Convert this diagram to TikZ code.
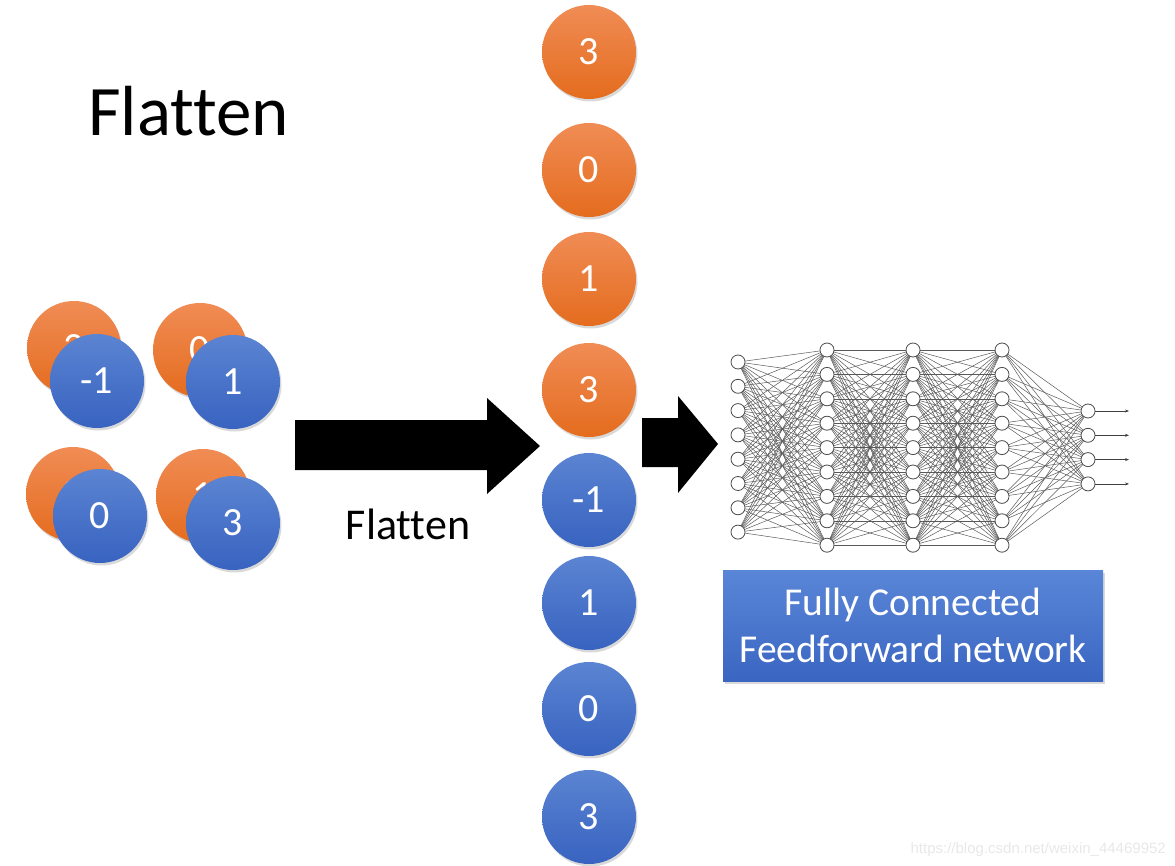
\documentclass[tikz,border=0pt]{standalone}
\usepackage{fontspec}
\setmainfont[Ligatures=NoCommon]{Carlito}
\newfontfamily\wmfont{Liberation Sans}
\usetikzlibrary{shadows,arrows.meta}
\definecolor{orangeTop}{HTML}{F08C55}
\definecolor{orangeBot}{HTML}{E46C1E}
\definecolor{blueTop}{HTML}{5B84D2}
\definecolor{blueBot}{HTML}{3863C0}
\definecolor{boxTop}{HTML}{5A86D8}
\definecolor{boxBot}{HTML}{3A66C2}
\tikzset{
 orb/.style={circle, minimum size=94pt, inner sep=0pt, text=white,
   font=\fontsize{40}{46}\selectfont,
   drop shadow={opacity=0.3, shadow xshift=1.5pt, shadow yshift=-2.5pt}},
 orangeball/.style={orb, top color=orangeTop, bottom color=orangeBot},
 blueball/.style={orb, top color=blueTop, bottom color=blueBot},
 neuron/.style={circle, draw=black!70, fill=white, minimum size=14pt, inner sep=0pt, line width=0.8pt},
 synapse/.style={draw=black!65, line width=0.5pt},
 outarrow/.style={draw=black!75, line width=0.6pt, -{Stealth[length=4pt,width=3pt]}},
 bigarrow/.style={fill=black},
 fcbox/.style={rectangle, minimum width=380pt, minimum height=111pt, inner sep=0pt,
   top color=boxTop, bottom color=boxBot, text=white, align=center,
   font=\fontsize{39.5}{47}\selectfont,
   drop shadow={opacity=0.3, shadow xshift=2pt, shadow yshift=-2.5pt}},
}
\begin{document}
\begin{tikzpicture}[x=1pt,y=-1pt]
\useasboundingbox (0,0) rectangle (1175,866);

% title
\node[anchor=base west, inner sep=0pt, font=\fontsize{71}{80}\selectfont] (title) at (88,136) {Flatten};

% left 2x2 feature maps
\node[orangeball] (oTL) at (74,348) {3};
\node[blueball]   (bTL) at (97,381) {-1};
\node[orangeball] (oTR) at (200,350) {0};
\node[blueball]   (bTR) at (233,382) {1};
\node[orangeball] (oBL) at (73,494) {3};
\node[blueball]   (bBL) at (100,516) {0};
\node[orangeball] (oBR) at (203,496) {1};
\node[blueball]   (bBR) at (233,523) {3};

% big arrow 1
\fill[bigarrow] (295,420) -- (487,420) -- (487,398) -- (540,446) -- (487,494) -- (487,470) -- (295,470) -- cycle;
\node[anchor=base, inner sep=0pt, font=\fontsize{44}{50}\selectfont] (flatlabel) at (408,539) {Flatten};

% flattened column
\node[orangeball] (c1) at (589,52) {3};
\node[orangeball] (c2) at (589,170) {0};
\node[orangeball] (c3) at (589,279) {1};
\node[orangeball] (c4) at (589,390) {3};
\node[blueball]   (c5) at (589,500) {-1};
\node[blueball]   (c6) at (589,603) {1};
\node[blueball]   (c7) at (589,709) {0};
\node[blueball]   (c8) at (589,817) {3};

% big arrow 2
\fill[bigarrow] (642,418) -- (678,418) -- (678,396) -- (718,444) -- (678,493) -- (678,467) -- (642,467) -- cycle;

% neural network neuron positions
\foreach \i in {1,...,8} { \coordinate (pa\i) at (738,{362+24.3*(\i-1)}); }
\foreach \i in {1,...,9} {
  \coordinate (pb\i) at (827,{350+24.4*(\i-1)});
  \coordinate (pc\i) at (913,{350+24.4*(\i-1)});
  \coordinate (pd\i) at (1002,{350+24.4*(\i-1)});
}
\foreach \i in {1,...,4} { \coordinate (pe\i) at (1088,{411+24.3*(\i-1)}); }

% synapses
\foreach \i in {1,...,8} \foreach \j in {1,...,9} { \draw[synapse] (pa\i) -- (pb\j); }
\foreach \i in {1,...,9} \foreach \j in {1,...,9} { \draw[synapse] (pb\i) -- (pc\j); \draw[synapse] (pc\i) -- (pd\j); }
\foreach \i in {1,...,9} \foreach \j in {1,...,4} { \draw[synapse] (pd\i) -- (pe\j); }

% neurons
\foreach \i in {1,...,8} { \node[neuron] (na\i) at (pa\i) {}; }
\foreach \i in {1,...,9} {
  \node[neuron] (nb\i) at (pb\i) {};
  \node[neuron] (nc\i) at (pc\i) {};
  \node[neuron] (nd\i) at (pd\i) {};
}
\foreach \i in {1,...,4} {
  \node[neuron] (ne\i) at (pe\i) {};
  \coordinate (out\i) at (1129,{411+24.3*(\i-1)});
  \draw[outarrow] (ne\i) -- (out\i);
}

% fully connected box
\node[fcbox] (fc) at (913,625.5) {Fully Connected\\Feedforward network};

% watermark
\node[anchor=base east, inner sep=0pt, text=black!9, font=\wmfont\fontsize{15}{18}\selectfont] (wm) at (1166,853) {https://blog.csdn.net/weixin\_44469952};
\end{tikzpicture}
\end{document}
